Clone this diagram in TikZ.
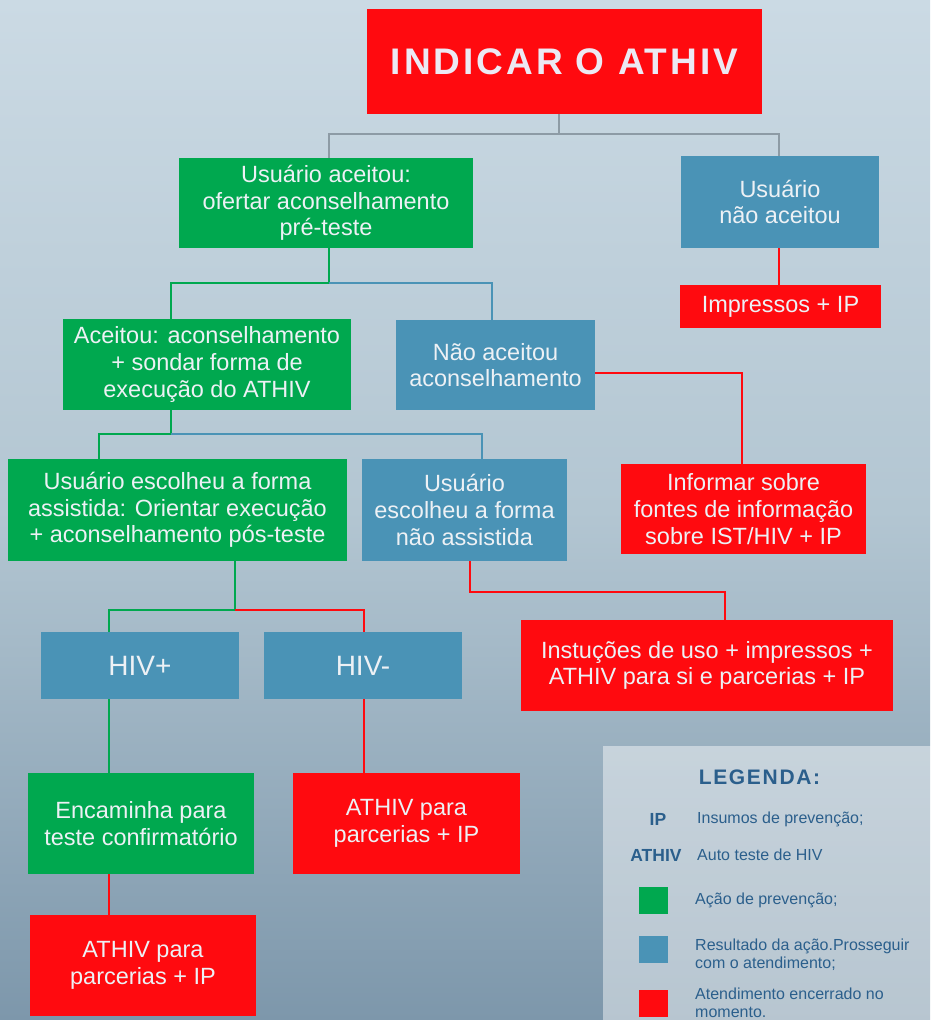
\documentclass[tikz,border=0pt]{standalone}
\usepackage{fontspec}
\setmainfont{Liberation Sans}
\newfontfamily\titlefont{Liberation Sans}[LetterSpace=8]
\newfontfamily\legtitlefont{Liberation Sans}[LetterSpace=8]
\definecolor{bgtop}{HTML}{CBDAE4}
\definecolor{bgmid}{HTML}{B3C6D2}
\definecolor{bgbot}{HTML}{7D97AB}
\definecolor{cgreenc}{HTML}{00A84F}
\definecolor{cbluec}{HTML}{4A93B6}
\definecolor{credc}{HTML}{FF0A0F}
\definecolor{ctext}{HTML}{EDF1F5}
\definecolor{cgreyc}{HTML}{8D9BA5}
\definecolor{lgtextc}{HTML}{2B5F8C}
\definecolor{titletext}{HTML}{ECE9F3}
\begin{document}
\begin{tikzpicture}[x=1pt,y=-1pt,
  box/.style={inner sep=0pt, align=center, text=ctext, font=\fontsize{23.5}{26.7}\selectfont},
  gbox/.style={box, fill=cgreenc},
  bbox/.style={box, fill=cbluec},
  rbox/.style={box, fill=credc},
  conn/.style={line width=2pt},
  gline/.style={conn, draw=cgreenc},
  bline/.style={conn, draw=cbluec},
  rline/.style={conn, draw=credc},
  kline/.style={conn, draw=cgreyc},
  lgtext/.style={anchor=west, inner sep=0pt, align=left, text=lgtextc, font=\fontsize{16}{18}\selectfont},
  lglabel/.style={inner sep=0pt, text=lgtextc, font=\fontsize{17.5}{20}\selectfont\bfseries},
  lgsquare/.style={inner sep=0pt, minimum width=29, minimum height=27}]
\useasboundingbox (0,0) rectangle (930,1020);
% background
\shade[top color=bgtop, bottom color=bgbot, middle color=bgmid] (0,0) rectangle (930,1020);
% title
\node[rbox, minimum width=395, minimum height=105, text=titletext] (title) at (564.5,61.5)
  {\titlefont\bfseries\fontsize{37}{40}\selectfont INDICAR O ATHIV};
% boxes
\node[gbox, minimum width=294, minimum height=90] (g1) at (326,203)
  {Usuário aceitou:\\ofertar aconselhamento\\pré-teste};
\node[bbox, minimum width=198, minimum height=92] (b1) at (780,202)
  {Usuário\\não aceitou};
\node[rbox, minimum width=201, minimum height=43] (r1) at (780.5,306.5)
  {Impressos + IP};
\node[gbox, minimum width=288, minimum height=91] (g2) at (207,364.5)
  {Aceitou: aconselhamento\\+ sondar forma de\\execução do ATHIV};
\node[bbox, minimum width=199, minimum height=90] (b2) at (495.5,365)
  {Não aceitou\\aconselhamento};
\node[rbox, minimum width=245, minimum height=90] (r2) at (743.5,509)
  {Informar sobre\\fontes de informação\\sobre IST/HIV + IP};
\node[gbox, minimum width=339, minimum height=102] (g3) at (177.5,510)
  {Usuário escolheu a forma\\assistida: Orientar execução\\+ aconselhamento pós-teste};
\node[bbox, minimum width=205, minimum height=102] (b3) at (464.5,510)
  {Usuário\\escolheu a forma\\não assistida};
\node[rbox, minimum width=372, minimum height=91] (r3) at (707,665.5)
  {Instuções de uso + impressos +\\ATHIV para si e parcerias + IP};
\node[bbox, minimum width=198, minimum height=67, font=\fontsize{28}{30}\selectfont] (hp) at (140,665.5) {HIV+};
\node[bbox, minimum width=198, minimum height=67, font=\fontsize{28}{30}\selectfont] (hm) at (363,665.5) {HIV-};
\node[gbox, minimum width=226, minimum height=101] (g4) at (141,823.5)
  {Encaminha para\\teste confirmatório};
\node[rbox, minimum width=227, minimum height=101] (r4) at (406.5,823.5)
  {ATHIV para\\parcerias + IP};
\node[rbox, minimum width=226, minimum height=101] (r5) at (143,965.5)
  {ATHIV para\\parcerias + IP};
% junctions
\coordinate (j0) at (559,134);
\coordinate (j1) at (329,134);
\coordinate (j2) at (779,134);
\coordinate (k0) at (329,283);
\coordinate (k1) at (171,283);
\coordinate (k2) at (492,283);
\coordinate (m0) at (742,373);
\coordinate (n0) at (171,434);
\coordinate (n1) at (99,434);
\coordinate (n2) at (482,434);
\coordinate (p0) at (470,592);
\coordinate (p1) at (725,592);
\coordinate (q0) at (235,610);
\coordinate (q1) at (109,610);
\coordinate (q2) at (364,610);
% connectors
\draw[kline] (title.south -| j0) -- (j0);
\draw[kline] (j1 |- g1.north) -- (j1) -- (j2) -- (j2 |- b1.north);
\draw[rline] (b1.south -| j2) -- (r1.north -| j2);
\draw[gline] (g1.south -| k0) -- (k0) -- (k1) -- (k1 |- g2.north);
\draw[bline] (k0) -- (k2) -- (k2 |- b2.north);
\draw[rline] (b2.east |- m0) -- (m0) -- (m0 |- r2.north);
\draw[gline] (g2.south -| n0) -- (n0) -- (n1) -- (n1 |- g3.north);
\draw[bline] (n0) -- (n2) -- (n2 |- b3.north);
\draw[rline] (b3.south -| p0) -- (p0) -- (p1) -- (p1 |- r3.north);
\draw[gline] (g3.south -| q0) -- (q0) -- (q1) -- (q1 |- hp.north);
\draw[rline] (q0) -- (q2) -- (q2 |- hm.north);
\draw[gline] (hp.south -| q1) -- (g4.north -| q1);
\draw[rline] (hm.south -| q2) -- (r4.north -| q2);
\draw[rline] (g4.south -| q1) -- (r5.north -| q1);
% legend
\fill[white, opacity=0.45] (603,746) rectangle (935,1025);
\node[inner sep=0pt, text=lgtextc, font=\legtitlefont\bfseries\fontsize{21}{24}\selectfont] (lt) at (759.5,777) {LEGENDA:};
\node[lglabel] (l1) at (658,819) {IP};
\node[lgtext] (t1) at (697,819) {Insumos de prevenção;};
\node[lglabel] (l2) at (656,855) {ATHIV};
\node[lgtext] (t2) at (697,855) {Auto teste de HIV};
\node[lgsquare, fill=cgreenc] (s1) at (653.5,900.5) {};
\node[lgtext] (t3) at (695,900) {Ação de prevenção;};
\node[lgsquare, fill=cbluec] (s2) at (653.5,949.5) {};
\node[lgtext] (t4) at (695,955) {Resultado da ação.Prosseguir\\com o atendimento;};
\node[lgsquare, fill=credc] (s3) at (653.5,1003.5) {};
\node[lgtext] (t5) at (695,1003) {Atendimento encerrado no\\momento.};
\end{tikzpicture}
\end{document}
